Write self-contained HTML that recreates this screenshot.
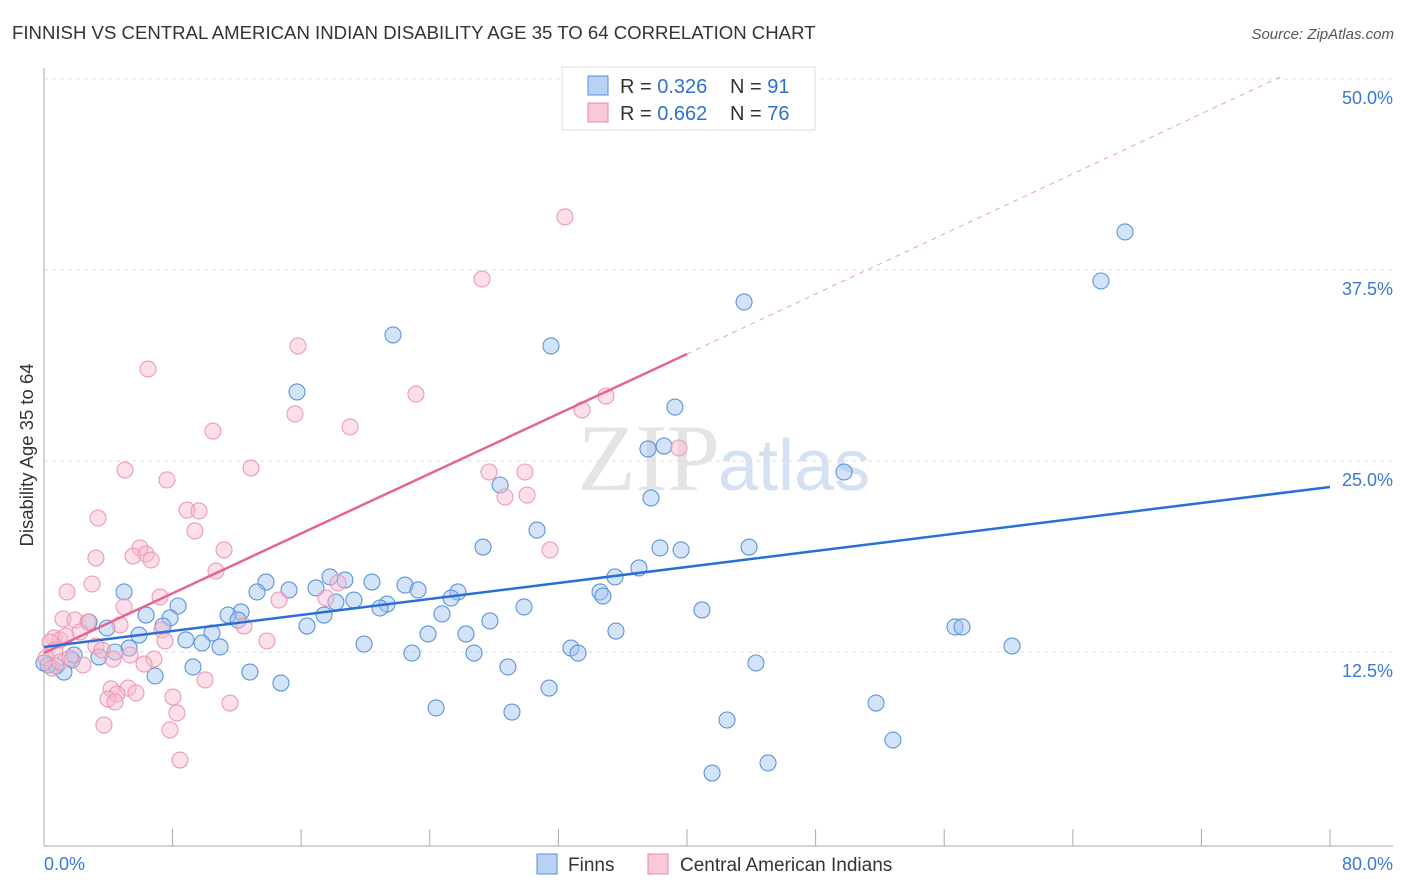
<!DOCTYPE html>
<html><head><meta charset="utf-8"><style>
body{margin:0;background:#fff;font-family:"Liberation Sans",sans-serif}
svg{display:block}
</style></head><body>
<svg id="c" width="1406" height="892">
<text x="12" y="39" font-size="18.6" fill="#333">FINNISH VS CENTRAL AMERICAN INDIAN DISABILITY AGE 35 TO 64 CORRELATION CHART</text>
<text x="1394" y="39" font-size="15" fill="#555" font-style="italic" text-anchor="end">Source: ZipAtlas.com</text>
<text x="33" y="455" font-size="18.5" fill="#333" text-anchor="middle" transform="rotate(-90 33 455)">Disability Age 35 to 64</text>
<text x="720" y="490" font-size="95" fill="#e4e4e4" text-anchor="end" font-family="Liberation Serif,serif">ZIP</text>
<text x="718" y="490" font-size="72" fill="#d3e1f3">atlas</text>
<g id="grid"></g><g id="marks"></g>
<g>
<rect x="562" y="67" width="253" height="63" fill="#fff" stroke="#ddd"/>
<rect x="588" y="76" width="20" height="19" fill="#b8d2f3" stroke="#5a8fd8"/>
<rect x="588" y="103" width="20" height="19" fill="#f9c9d7" stroke="#e58aa8"/>
<g font-size="20" fill="#333">
<text x="620" y="93">R = <tspan fill="#2f6fd0">0.326</tspan></text>
<text x="730" y="93">N = <tspan fill="#2f6fd0">91</tspan></text>
<text x="620" y="120">R = <tspan fill="#2f6fd0">0.662</tspan></text>
<text x="730" y="120">N = <tspan fill="#2f6fd0">76</tspan></text>
</g>
</g>
<g>
<rect x="537" y="854" width="20" height="20" fill="#b8d2f3" stroke="#5a8fd8"/>
<text x="568" y="871" font-size="19" fill="#333">Finns</text>
<rect x="648" y="854" width="20" height="20" fill="#f9c9d7" stroke="#e58aa8"/>
<text x="680" y="871" font-size="19" fill="#333">Central American Indians</text>
</g>
</svg>
<script>
const yTicks=[12.5,25,37.5,50];
const yTickLabels=["12.5%","25.0%","37.5%","50.0%"];
const xTickLabels=["0.0%","80.0%"];
const finnsPx=[[1125,232],[1101,281],[744,302],[393,335],[551,346],[297,392],[675,407],[664,446],[648,449],[844,472],[500,485],[651,498],[537,530],[483,547],[660,548],[681,550],[749,547],[639,568],[615,577],[405,585],[418,590],[372,582],[345,580],[330,577],[266,582],[289,590],[257,592],[316,588],[124,592],[458,592],[451,598],[600,592],[603,596],[354,600],[336,602],[524,607],[387,604],[380,608],[178,606],[241,612],[228,615],[238,620],[146,615],[170,618],[324,615],[442,614],[702,610],[490,621],[307,626],[163,626],[89,622],[107,628],[212,633],[139,635],[186,640],[202,643],[428,634],[466,634],[616,631],[955,627],[962,627],[1012,646],[364,644],[220,647],[129,648],[115,652],[99,657],[72,660],[571,648],[578,653],[474,653],[412,653],[756,663],[193,667],[250,672],[155,676],[64,672],[56,666],[48,665],[44,663],[281,683],[549,688],[508,667],[876,703],[436,708],[512,712],[727,720],[893,740],[768,763],[712,773],[74,655]];
const caiPx=[[565,217],[482,279],[298,346],[148,369],[416,394],[606,396],[582,410],[295,414],[350,427],[213,431],[679,448],[125,470],[525,472],[489,472],[251,468],[167,480],[505,497],[527,495],[187,510],[199,511],[98,518],[195,531],[224,550],[550,550],[140,548],[133,556],[146,554],[151,560],[96,558],[216,571],[92,584],[67,592],[160,597],[279,600],[326,598],[124,607],[63,619],[75,620],[88,622],[120,625],[162,630],[244,626],[80,632],[54,638],[60,640],[66,636],[50,642],[165,641],[267,641],[96,646],[55,650],[102,650],[130,655],[154,659],[113,659],[46,658],[144,664],[83,665],[52,668],[111,689],[128,688],[117,694],[108,699],[136,693],[173,697],[205,680],[230,703],[115,702],[104,725],[177,713],[170,730],[180,760],[60,662],[70,658],[338,583]];
// data values (x %, y %)
const finnsX=finnsPx.map(p=>+((p[0]-44)/16.075).toFixed(2));
const finnsY=finnsPx.map(p=>+((843-p[1])/15.28).toFixed(2));
const caiX=caiPx.map(p=>+((p[0]-44)/16.075).toFixed(2));
const caiY=caiPx.map(p=>+((843-p[1])/15.28).toFixed(2));
const finnsTrendX=[0,80], finnsTrendY=[12.83,23.3];
const caiTrendX=[0,40], caiTrendY=[12.43,32.0];
const caiDashX=[40,76.9], caiDashY=[32.0,50.13];

const X=v=>44+v*16.075, Y=v=>843-v*15.28;
const NS="http://www.w3.org/2000/svg";
function mk(t,a,p){const e=document.createElementNS(NS,t);for(const k in a)e.setAttribute(k,a[k]);p.appendChild(e);return e;}
const g=document.getElementById('grid'), m=document.getElementById('marks');
let ax=mk('line',{x1:44,y1:68,x2:44,y2:846,stroke:'#aaa'},g);


let bx=mk('line',{x1:44,y1:846,x2:1393,y2:846,stroke:'#aaa'},g);


yTicks.forEach((v,i)=>{
 let l=mk('line',{x1:44,y1:Y(v),x2:1393,y2:Y(v),stroke:'#ddd','stroke-dasharray':'4,4'},g);
 
 
 let t=mk('text',{x:1393,y:Y(v)+25,'font-size':18,fill:'#3a78d4','text-anchor':'end'},g);t.textContent=yTickLabels[i];
 
 
});
for(let i=0;i<=10;i++){let l=mk('line',{x1:X(i*8),y1:829,x2:X(i*8),y2:846,stroke:'#aaa'},g);
 
 }
[[0,'start',44],[1,'end',1393]].forEach(([i,a,x])=>{let t=mk('text',{x:x,y:870,'font-size':18,fill:'#3a78d4','text-anchor':a},g);t.textContent=xTickLabels[i];
 
 });
finnsX.forEach((v,i)=>{let c=mk('circle',{cx:X(v),cy:Y(finnsY[i]),r:8,fill:'rgba(160,196,240,0.45)',stroke:'#5b93dc','stroke-width':1.1},m);
 
 });
caiX.forEach((v,i)=>{let c=mk('circle',{cx:X(v),cy:Y(caiY[i]),r:8,fill:'rgba(248,185,205,0.45)',stroke:'#eb9ab5','stroke-width':1.1},m);
 
 });
let d=mk('line',{x1:X(caiDashX[0]),y1:Y(caiDashY[0]),x2:X(caiDashX[1]),y2:Y(caiDashY[1]),stroke:'#eaa0b8','stroke-dasharray':'5,5'},m);


let p=mk('line',{x1:X(caiTrendX[0]),y1:Y(caiTrendY[0]),x2:X(caiTrendX[1]),y2:Y(caiTrendY[1]),stroke:'#e4658f','stroke-width':2.5},m);


let b=mk('line',{x1:X(finnsTrendX[0]),y1:Y(finnsTrendY[0]),x2:X(finnsTrendX[1]),y2:Y(finnsTrendY[1]),stroke:'#2a6fd6','stroke-width':2.5},m);


</script>
</body></html>
